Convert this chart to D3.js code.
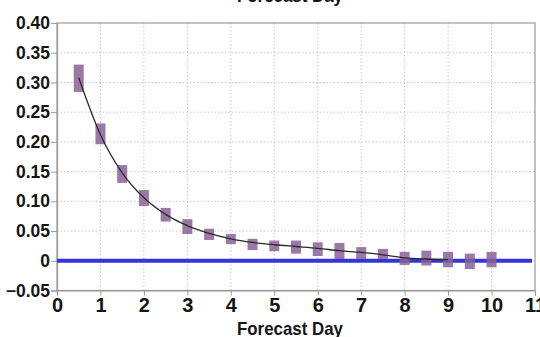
<!DOCTYPE html>
<html>
<head>
<meta charset="utf-8">
<script src="https://cdn.jsdelivr.net/npm/d3@7"></script>
<style>
  html, body { margin: 0; padding: 0; background: #fff; }
  svg { display: block; font-family: "Liberation Sans", Arial, sans-serif; }
</style>
</head>
<body>
<svg id="chart" width="540" height="337"></svg>
<script>
// Forecast day for each uncertainty box
const days = [0.5, 1, 1.5, 2, 2.5, 3, 3.5, 4, 4.5, 5, 5.5, 6, 6.5, 7, 7.5, 8, 8.5, 9, 9.5, 10];
// Lower and upper bound of each box
const boxLow  = [0.284, 0.196, 0.131, 0.092, 0.066, 0.045, 0.035, 0.028, 0.018, 0.016,
                 0.012, 0.008, 0.003, 0.003, 0.003, -0.007, -0.008, -0.011, -0.014, -0.011];
const boxHigh = [0.330, 0.231, 0.161, 0.119, 0.089, 0.070, 0.054, 0.045, 0.037, 0.034,
                 0.034, 0.031, 0.030, 0.023, 0.020, 0.015, 0.017, 0.015, 0.012, 0.015];
// Fitted decay curve
const fitDays   = [0.5, 1, 1.5, 2, 2.5, 3, 3.5, 4, 4.5, 5, 5.5, 6, 6.5, 7, 7.5, 8, 8.5, 9];
const fitValues = [0.308, 0.212, 0.148, 0.106, 0.078, 0.059, 0.046, 0.037, 0.031, 0.027,
                   0.024, 0.021, 0.017, 0.014, 0.010, 0.005, 0.003, 0.002];
// Axis ticks
const xTicks = [0, 1, 2, 3, 4, 5, 6, 7, 8, 9, 10, 11];
const yTicks = [-0.05, 0, 0.05, 0.10, 0.15, 0.20, 0.25, 0.30, 0.35, 0.40];
const xTitle = "Forecast Day";

const svg = d3.select("#chart");
const plotLeft = 57, plotRight = 535, plotTop = 23, plotBottom = 290.5;

const x = d3.scaleLinear().domain([0, 11]).range([plotLeft, plotRight]);
const y = d3.scaleLinear().domain([-0.05, 0.40]).range([plotBottom, plotTop]);

// Dotted grid
svg.append("g").selectAll("line").data(xTicks.slice(1, -1)).join("line")
  .attr("x1", d => x(d)).attr("x2", d => x(d))
  .attr("y1", plotTop).attr("y2", plotBottom)
  .attr("stroke", "#c8c8c8").attr("stroke-width", 1).attr("stroke-dasharray", "1.5,2");
svg.append("g").selectAll("line").data(yTicks.slice(1, -1)).join("line")
  .attr("x1", plotLeft).attr("x2", plotRight)
  .attr("y1", d => y(d)).attr("y2", d => y(d))
  .attr("stroke", "#c8c8c8").attr("stroke-width", 1).attr("stroke-dasharray", "1.5,2");

// Plot frame
svg.append("rect")
  .attr("x", plotLeft).attr("y", plotTop)
  .attr("width", plotRight - plotLeft).attr("height", plotBottom - plotTop)
  .attr("fill", "none").attr("stroke", "#9a9a9a").attr("stroke-width", 1.2);

// Axes
const yAxis = svg.append("g")
  .attr("transform", `translate(${plotLeft},0)`)
  .call(d3.axisLeft(y).tickValues(yTicks)
    .tickFormat(d => d === 0 ? "0" : d3.format(".2f")(d))
    .tickSize(6).tickPadding(1));
yAxis.select(".domain").attr("stroke", "#9a9a9a").attr("stroke-width", 1.2);
yAxis.selectAll(".tick line").attr("stroke", "#9a9a9a");
yAxis.selectAll("text")
  .attr("font-size", "17.5px").attr("font-weight", "bold").attr("fill", "#151515")
  .attr("font-family", "'Liberation Sans', Arial, sans-serif");

const xAxis = svg.append("g")
  .attr("transform", `translate(0,${plotBottom})`)
  .call(d3.axisBottom(x).tickValues(xTicks).tickFormat(d3.format("d"))
    .tickSize(5).tickPadding(2));
xAxis.select(".domain").attr("stroke", "#9a9a9a").attr("stroke-width", 1.2);
xAxis.selectAll(".tick line").attr("stroke", "#9a9a9a");
xAxis.selectAll("text")
  .attr("font-size", "20px").attr("font-weight", "bold").attr("fill", "#151515")
  .attr("font-family", "'Liberation Sans', Arial, sans-serif");

// Zero reference line
svg.append("line")
  .attr("x1", x(0)).attr("x2", x(11) - 3)
  .attr("y1", y(0)).attr("y2", y(0))
  .attr("stroke", "#3434d8").attr("stroke-width", 4);

// Uncertainty boxes
const boxW = 10;
svg.append("g").selectAll("rect").data(days).join("rect")
  .attr("x", d => x(d) - boxW / 2)
  .attr("width", boxW)
  .attr("y", (d, i) => y(boxHigh[i]))
  .attr("height", (d, i) => y(boxLow[i]) - y(boxHigh[i]))
  .attr("fill", "#8a6297").attr("fill-opacity", 0.85);

// Fitted curve
const line = d3.line()
  .x((d, i) => x(fitDays[i]))
  .y(d => y(d))
  .curve(d3.curveMonotoneX);
svg.append("path")
  .datum(fitValues)
  .attr("d", line)
  .attr("fill", "none").attr("stroke", "#2a2a2a").attr("stroke-width", 1.3);

// Axis title, and the title of the panel above, which shows at the top edge
svg.append("text")
  .attr("x", 290).attr("y", 335)
  .attr("text-anchor", "middle")
  .attr("font-size", "18.5px").attr("font-weight", "bold").attr("fill", "#151515")
  .attr("textLength", 106).attr("lengthAdjust", "spacingAndGlyphs")
  .text(xTitle);
svg.append("text")
  .attr("x", 290).attr("y", 1.5)
  .attr("text-anchor", "middle")
  .attr("font-size", "18.5px").attr("font-weight", "bold").attr("fill", "#151515")
  .attr("textLength", 106).attr("lengthAdjust", "spacingAndGlyphs")
  .text(xTitle);
</script>
</body>
</html>
